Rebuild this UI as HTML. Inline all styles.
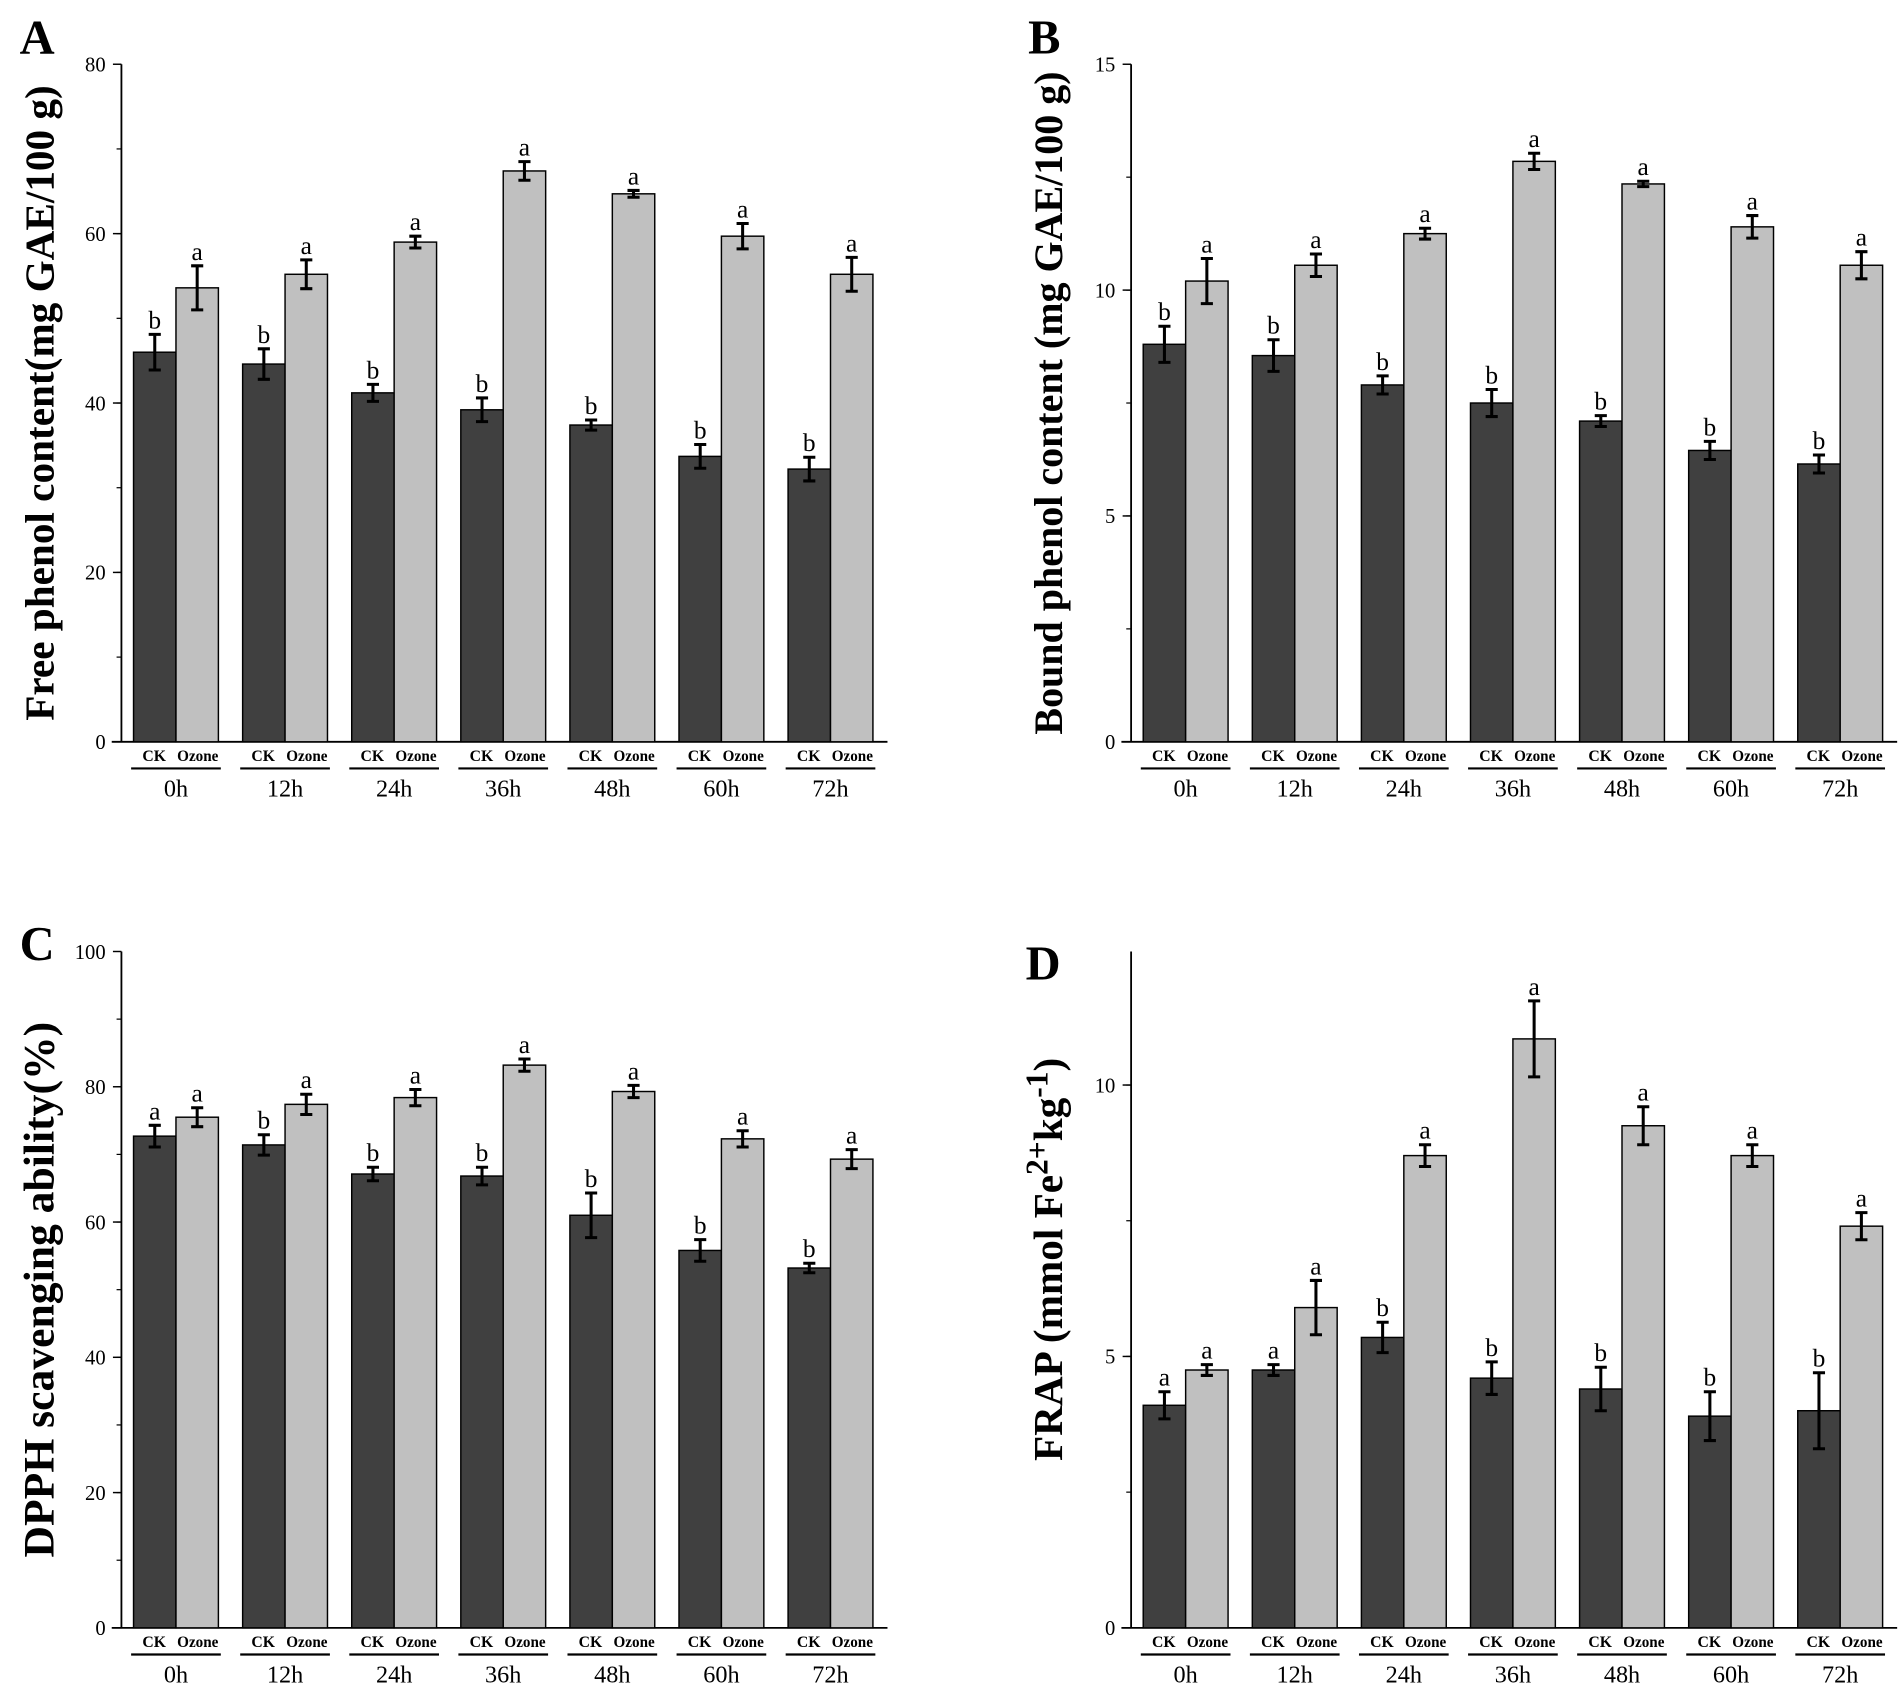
<!DOCTYPE html>
<html><head><meta charset="utf-8"><style>
html,body{margin:0;padding:0;background:#fff}
svg{display:block}
text{font-family:"Liberation Serif",serif;fill:#000}
</style></head><body>
<svg id="fig" width="1901" height="1703" viewBox="0 0 1568 1405" xmlns="http://www.w3.org/2000/svg"></svg>
<script>
const categories = ["0h","12h","24h","36h","48h","60h","72h"];
const aCK = [46,44.6,41.2,39.2,37.4,33.7,32.2];
const aCKerr = [2.1,1.8,1.0,1.4,0.6,1.4,1.4];
const aOz = [53.6,55.2,59,67.4,64.7,59.7,55.2];
const aOzerr = [2.6,1.7,0.7,1.1,0.4,1.5,2.0];
const bCK = [8.8,8.55,7.9,7.5,7.1,6.45,6.15];
const bCKerr = [0.4,0.35,0.2,0.3,0.12,0.2,0.2];
const bOz = [10.2,10.55,11.25,12.85,12.35,11.4,10.55];
const bOzerr = [0.5,0.25,0.12,0.18,0.06,0.25,0.3];
const cCK = [72.7,71.4,67.1,66.8,61,55.8,53.2];
const cCKerr = [1.6,1.5,1.0,1.3,3.3,1.6,0.7];
const cOz = [75.5,77.4,78.4,83.2,79.3,72.3,69.3];
const cOzerr = [1.4,1.5,1.2,0.9,0.9,1.2,1.4];
const dCK = [4.1,4.75,5.35,4.6,4.4,3.9,4.0];
const dCKerr = [0.25,0.1,0.28,0.3,0.4,0.45,0.7];
const dOz = [4.75,5.9,8.7,10.85,9.25,8.7,7.4];
const dOzerr = [0.1,0.5,0.2,0.7,0.35,0.2,0.25];
const aLetCK = ["b","b","b","b","b","b","b"];
const aLetOz = ["a","a","a","a","a","a","a"];
const cLetCK = ["a","b","b","b","b","b","b"];
const dLetCK = ["a","a","b","b","b","b","b"];
const aTicks = [0,20,40,60,80];
const bTicks = [0,5,10,15];
const cTicks = [0,20,40,60,80,100];
const dTicks = [0,5,10];

const NS="http://www.w3.org/2000/svg";
const svg=document.getElementById('fig');
function el(tag,attrs,parent,txt){const e=document.createElementNS(NS,tag);for(const k in attrs)e.setAttribute(k,attrs[k]);if(txt!==undefined)e.textContent=txt;(parent||svg).appendChild(e);return e;}

function panel(p){
  const g=el('g',{});
  
  
  const y=v=>p.y0-(v/p.max)*(p.y0-p.yTop);
  const L=el('text',{x:p.lx,y:p.ly,'font-size':40,'font-weight':'bold'},g,p.letter);
  
  
  const ax=el('line',{x1:p.ax,y1:p.yTop,x2:p.ax,y2:p.y0,stroke:'#000','stroke-width':1.5},g);
  
  
  const xa=el('line',{x1:p.ax-8,y1:p.y0,x2:p.ax+632,y2:p.y0,stroke:'#000','stroke-width':1.5},g);
  
  
  for(let v=p.minor;v<p.max;v+=p.minor){
    el('line',{x1:p.ax-4,y1:y(v),x2:p.ax,y2:y(v),stroke:'#000','stroke-width':1},g);
  }
  p.ticks.forEach(t=>{
    el('line',{x1:p.ax-7,y1:y(t),x2:p.ax,y2:y(t),stroke:'#000','stroke-width':1.2},g);
    const tl=el('text',{x:p.ax-13,y:y(t)+6,'font-size':17,'text-anchor':'end',fill:'#333'},g,String(t));
    
    
  });
  const cy=(p.yTop+p.y0)/2;
  const yt=el('text',{x:0,y:0,'font-size':p.fs,'font-weight':'bold','text-anchor':'middle',transform:`translate(${p.tx},${cy+p.tyOff}) rotate(-90)`},g);
  
  
  if(p.sup){
    yt.appendChild(document.createTextNode('FRAP (mmol Fe'));
    el('tspan',{dy:-12,'font-size':26},yt,'2+');
    el('tspan',{dy:12},yt,'kg');
    el('tspan',{dy:-12,'font-size':26},yt,'-1');
    el('tspan',{dy:12},yt,')');
  } else yt.textContent=p.title;
  const bw=35;
  categories.forEach((c,i)=>{
    const gx=p.ax+10+i*90;
    [[p.ck,p.ckErr,p.ckLet,'#404040','ck'],[p.oz,p.ozErr,p.ozLet,'#c0c0c0','ozone']].forEach((s,j)=>{
      const v=s[0][i],e=s[1][i],x=gx+j*bw;
      const r=el('rect',{x:x,y:y(v),width:bw,height:p.y0-y(v),fill:s[3],stroke:'#000','stroke-width':1.2},g);
      
      
      const cx=x+bw/2;
      const eb=el('path',{d:`M${cx},${y(v+e)}V${y(v-e)}M${cx-5},${y(v+e)}H${cx+5}M${cx-5},${y(v-e)}H${cx+5}`,stroke:'#000','stroke-width':2.5,fill:'none'},g);
      
      
      const lt=el('text',{x:cx,y:y(v+e)-5,'font-size':21,'text-anchor':'middle',fill:'#222'},g,s[2][i]);
      
      
    });
    const ck=el('text',{x:gx+17,y:p.y0+16,'font-size':13,'font-weight':'bold','text-anchor':'middle'},g,'CK');
    
    
    const oz=el('text',{x:gx+53,y:p.y0+16,'font-size':13,'font-weight':'bold','text-anchor':'middle',textLength:34,lengthAdjust:'spacingAndGlyphs'},g,'Ozone');
    
    
    el('line',{x1:gx-2,y1:p.y0+22,x2:gx+72,y2:p.y0+22,stroke:'#000','stroke-width':1.8},g);
    const tl=el('text',{x:gx+35,y:p.y0+45,'font-size':20,'text-anchor':'middle'},g,c);
    
    
  });
}
panel({id:'a',letter:'A',lx:16,ly:44,ax:100,yTop:53,y0:612,max:80,minor:10,ticks:aTicks,tx:44,tyOff:0,fs:34,title:'Free phenol content(mg GAE/100 g)',ck:aCK,ckErr:aCKerr,oz:aOz,ozErr:aOzerr,ckLet:aLetCK,ozLet:aLetOz});
panel({id:'b',letter:'B',lx:848,ly:44,ax:933,yTop:53,y0:612,max:15,minor:2.5,ticks:bTicks,tx:876,tyOff:0,fs:33,title:'Bound phenol content (mg GAE/100 g)',ck:bCK,ckErr:bCKerr,oz:bOz,ozErr:bOzerr,ckLet:aLetCK,ozLet:aLetOz});
panel({id:'c',letter:'C',lx:16,ly:792,ax:100,yTop:785,y0:1343,max:100,minor:10,ticks:cTicks,tx:44,tyOff:0,fs:36,title:'DPPH scavenging ability(%)',ck:cCK,ckErr:cCKerr,oz:cOz,ozErr:cOzerr,ckLet:cLetCK,ozLet:aLetOz});
panel({id:'d',letter:'D',lx:846,ly:808,ax:933,yTop:785,y0:1343,max:12.46,minor:2.5,ticks:dTicks,tx:876,tyOff:-25,fs:34,sup:true,ck:dCK,ckErr:dCKerr,oz:dOz,ozErr:dOzerr,ckLet:dLetCK,ozLet:aLetOz});
</script>
</body></html>
